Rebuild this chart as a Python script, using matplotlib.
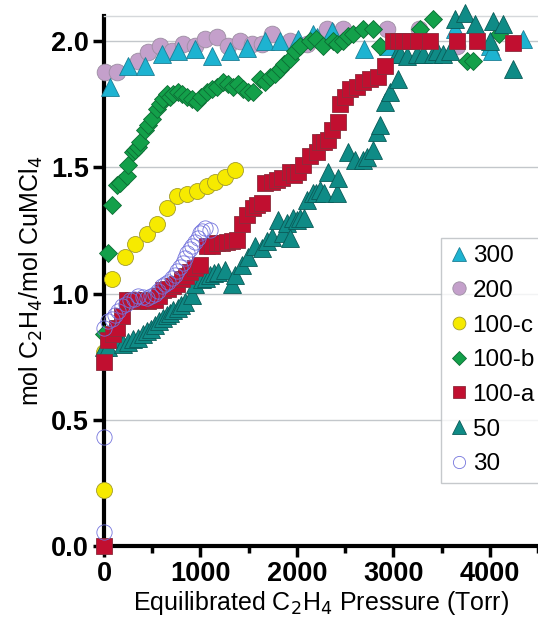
import matplotlib
matplotlib.use("Agg")
import matplotlib.pyplot as plt
from matplotlib.ticker import MultipleLocator, FormatStrFormatter

plt.rcParams['font.family'] = ['Liberation Sans', 'DejaVu Sans']

# --- data (pressure in Torr, mol C2H4 / mol CuMCl4) ---
x300 = [62, 250, 425, 600, 770, 940, 1120, 1305, 1480, 1670, 1825, 2010, 2165, 2205,
        2360, 2700, 2945, 3640, 4000, 4020, 4340]
y300 = [1.82, 1.90, 1.90, 1.95, 1.96, 1.97, 1.94, 1.96, 1.975, 2.00, 2.00, 2.01, 2.03, 2.015,
        2.04, 1.97, 1.98, 2.05, 1.98, 1.96, 2.01]

x200 = [10, 135, 350, 455, 580, 700, 820, 940, 1050, 1170, 1290, 1410, 1530, 1640,
        1740, 1930, 2100, 2310, 2477, 2930, 3270, 3660]
y200 = [1.88, 1.88, 1.92, 1.956, 1.98, 1.96, 1.99, 1.98, 2.01, 2.015, 1.98, 2.00, 1.99, 1.99,
        2.03, 2.00, 1.99, 2.05, 2.05, 2.05, 2.05, 1.98]

x100c = [0, 0, 83, 218, 320, 445, 550, 653, 756, 860, 964, 1067, 1150, 1254, 1357]
y100c = [0.22, 0.77, 1.056, 1.147, 1.195, 1.235, 1.274, 1.34, 1.385, 1.393, 1.405, 1.425,
         1.444, 1.464, 1.49]

x100b = [0, 40, 83, 135, 166, 238, 250, 300, 320, 350, 373, 425, 460, 497, 550, 580, 612,
         650, 684, 720, 767, 810, 860, 910, 964, 1010, 1067, 1120, 1171, 1233, 1290, 1337,
         1390, 1440, 1490, 1544, 1617, 1670, 1720, 1770, 1824, 1870, 1927, 1980, 2031, 2135,
         2200, 2270, 2373, 2420, 2477, 2530, 2580, 2684, 2788, 2860, 3275, 3410, 3760, 3825,
         4100]
y100b = [0.84, 1.16, 1.35, 1.43, 1.44, 1.465, 1.51, 1.56, 1.57, 1.58, 1.60, 1.65, 1.67, 1.69,
         1.73, 1.75, 1.77, 1.79, 1.78, 1.79, 1.80, 1.79, 1.78, 1.77, 1.76, 1.78, 1.80, 1.81,
         1.82, 1.84, 1.83, 1.82, 1.83, 1.81, 1.80, 1.80, 1.85, 1.84, 1.86, 1.87, 1.89, 1.91,
         1.93, 1.96, 1.98, 2.00, 2.01, 1.98, 2.00, 1.99, 2.00, 2.02, 2.03, 2.05, 2.05, 1.98,
         2.05, 2.09, 1.92, 1.92, 2.03]

x100a = [0, 0, 40, 90, 135, 187, 238, 300, 350, 404, 460, 528, 570, 612, 660, 715, 760, 808,
         850, 891, 940, 995, 1067, 1120, 1171, 1220, 1275, 1330, 1378, 1430, 1482, 1544, 1590,
         1637, 1668, 1740, 1790, 1845, 1927, 1970, 2010, 2062, 2135, 2207, 2238, 2280, 2321,
         2363, 2425, 2445, 2497, 2549, 2622, 2684, 2756, 2840, 2912, 2995, 3050, 3100, 3170,
         3254, 3378, 3658, 3865, 4238]
y100a = [0.0, 0.73, 0.817, 0.84, 0.865, 0.91, 0.976, 0.976, 0.97, 0.976, 0.97, 0.976, 0.99,
         1.016, 1.02, 1.03, 1.04, 1.056, 1.07, 1.087, 1.10, 1.115, 1.187, 1.19, 1.20, 1.20,
         1.206, 1.21, 1.214, 1.274, 1.313, 1.34, 1.35, 1.36, 1.44, 1.444, 1.45, 1.46, 1.48,
         1.47, 1.48, 1.51, 1.544, 1.563, 1.60, 1.60, 1.61, 1.65, 1.68, 1.75, 1.78, 1.81, 1.82,
         1.84, 1.85, 1.86, 1.90, 2.0, 2.0, 2.0, 2.0, 2.0, 2.0, 2.0, 2.0, 1.995]

x50 = [0, 40, 100, 145, 200, 250, 300, 352, 400, 445, 490, 528, 570, 612, 650, 684, 720, 767,
       800, 840, 912, 943, 1015, 1060, 1098, 1140, 1181, 1254, 1326, 1357, 1430, 1492, 1565,
       1637, 1690, 1741, 1803, 1855, 1896, 1927, 1958, 2000, 2031, 2070, 2104, 2166, 2200,
       2238, 2280, 2321, 2415, 2425, 2528, 2601, 2684, 2730, 2788, 2829, 2860, 2912, 2964,
       3036, 3047, 3067, 3140, 3243, 3305, 3410, 3450, 3520, 3585, 3640, 3740, 3845, 4000,
       4030, 4135, 4240]
y50 = [0.79, 0.79, 0.82, 0.825, 0.80, 0.81, 0.82, 0.825, 0.84, 0.85, 0.86, 0.877, 0.89, 0.905,
       0.915, 0.925, 0.935, 0.944, 0.955, 0.968, 0.996, 1.04, 1.056, 1.06, 1.075, 1.08, 1.087,
       1.095, 1.04, 1.075, 1.115, 1.147, 1.187, 1.18, 1.21, 1.226, 1.29, 1.24, 1.28, 1.22,
       1.30, 1.29, 1.30, 1.30, 1.37, 1.40, 1.40, 1.41, 1.40, 1.48, 1.40, 1.46, 1.56, 1.53,
       1.53, 1.54, 1.57, 1.64, 1.67, 1.76, 1.80, 1.95, 1.85, 1.95, 1.94, 1.95, 1.95, 1.95,
       1.96, 1.95, 1.96, 2.09, 2.11, 2.07, 2.00, 2.08, 2.07, 1.89]

x30 = [0, 0, 0, 40, 80, 115, 150, 187, 230, 270, 310, 352, 400, 445, 490, 528, 565, 600, 630,
       663, 700, 736, 760, 788, 815, 840, 865, 891, 915, 943, 970, 995, 1020, 1046, 1098]
y30 = [0.056, 0.43, 0.865, 0.89, 0.90, 0.917, 0.93, 0.95, 0.96, 0.976, 0.98, 0.99, 0.985,
       0.984, 0.99, 1.0, 1.01, 1.03, 1.04, 1.048, 1.06, 1.075, 1.09, 1.107, 1.12, 1.143, 1.16,
       1.175, 1.19, 1.206, 1.22, 1.24, 1.25, 1.26, 1.254]

series = [
    # label, x, y, marker, face, edge, size, zorder
    ("300",   x300,  y300,  "^", "#1DB3D1", "#1C7F95", 12.5, 4),
    ("200",   x200,  y200,  "o", "#C4A0CB", "#9C8EA2", 12.0, 3),
    ("100-c", x100c, y100c, "o", "#F6EA00", "#A39C2A", 11.5, 5),
    ("100-b", x100b, y100b, "D", "#13A04A", "#0C6C34", 8.8,  6),
    ("100-a", x100a, y100a, "s", "#C10F30", "#8C2C3C", 11.0, 8),
    ("50",    x50,   y50,   "^", "#0F8B86", "#0A5B58", 12.5, 7),
    ("30",    x30,   y30,   "o", "none",    "#7474DD", 11.0, 9),
]

fig = plt.figure(figsize=(5.38, 6.23), dpi=100)
ax = fig.add_axes([104/538, 1 - 546/623, 434/538, 530/623])

for lab, xs, ys, mk, fc, ec, ms, z in series:
    ax.plot(xs, ys, linestyle="none", marker=mk, markersize=ms, markerfacecolor=fc,
            markeredgecolor=ec, markeredgewidth=0.6, label=lab, zorder=z, clip_on=False)

ax.set_xlim(0, 4500)
ax.set_ylim(0, 2.1)
ax.xaxis.set_major_locator(MultipleLocator(1000))
ax.xaxis.set_minor_locator(MultipleLocator(500))
ax.yaxis.set_major_locator(MultipleLocator(0.5))
ax.yaxis.set_major_formatter(FormatStrFormatter("%.1f"))

ax.grid(True, axis="y", color="#C3C7CB", linewidth=1.0, zorder=0)
ax.set_axisbelow(True)

for s in ["left", "bottom"]:
    ax.spines[s].set_linewidth(3)
    ax.spines[s].set_color("black")
    ax.spines[s].set_zorder(2)
ax.spines["right"].set_visible(False)
ax.spines["top"].set_color("#D5D8DB")
ax.spines["top"].set_linewidth(1)

ax.tick_params(axis="both", which="major", direction="out", length=8, width=2.5,
               labelsize=19.5, pad=3)
ax.tick_params(axis="x", which="minor", direction="out", length=5, width=2.5)
for t in ax.get_xticklabels() + ax.get_yticklabels():
    t.set_fontweight("bold")

ax.set_xlabel("Equilibrated C$_2$H$_4$ Pressure (Torr)", fontsize=18, labelpad=1)
ax.set_ylabel("mol C$_2$H$_4$/mol CuMCl$_4$", fontsize=18, labelpad=4)

# legend: box starts at (441, 238) px and runs off the right edge
leg = fig.legend(loc="upper left", bbox_to_anchor=(441/538, 1 - 238/623),
                 frameon=True, fancybox=False, fontsize=17.5, handletextpad=0.1,
                 handlelength=0.9, borderpad=0.3, labelspacing=0.52,
                 borderaxespad=0, markerscale=0.8)
leg.get_frame().set_edgecolor("#B8BCC0")
leg.get_frame().set_linewidth(1)
leg.set_zorder(10)

plt.savefig("out.png", dpi=100)
